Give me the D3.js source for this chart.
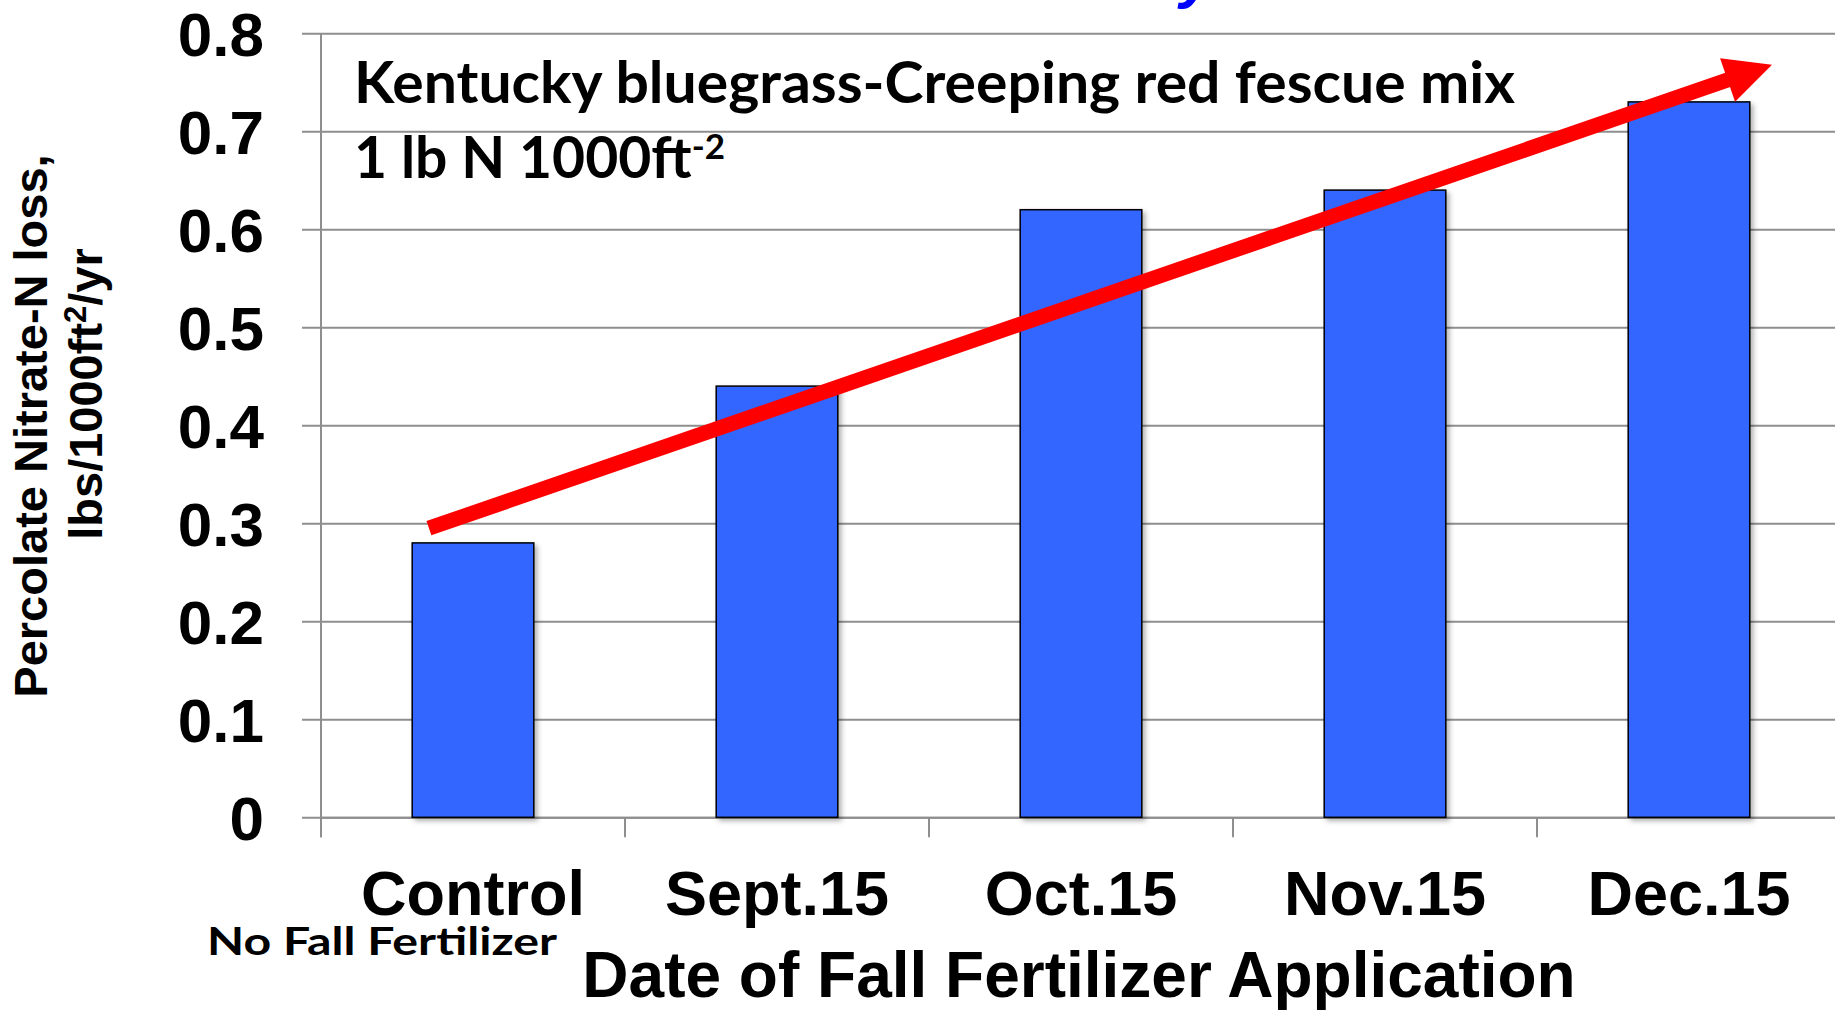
<!DOCTYPE html>
<html>
<head>
<meta charset="utf-8">
<script src="https://cdn.jsdelivr.net/npm/d3@7"></script>
<style>
  body { margin: 0; background: #fff; }
  svg { display: block; }
</style>
</head>
<body>
<div id="chart"></div>
<script>
const categories = ['Control', 'Sept.15', 'Oct.15', 'Nov.15', 'Dec.15']
const nitrateLoss = [0.28, 0.44, 0.62, 0.64, 0.73]
const yTickValues = [0, 0.1, 0.2, 0.3, 0.4, 0.5, 0.6, 0.7, 0.8]
const trendFrom = { category: 'Control', value: 0.295 }
const trendTo = { category: 'Dec.15', value: 0.768 }
const noteTitle = 'Kentucky bluegrass-Creeping red fescue mix'
const noteRate = '1 lb N 1000ft'
const noteRateExp = '-2'
const controlNote = 'No Fall Fertilizer'
const xTitle = 'Date of Fall Fertilizer Application'
const yTitle = ['Percolate Nitrate-N loss,', 'lbs/1000ft', '2', '/yr']

const width = 1835
const height = 1010
const plot = { left: 321, right: 1841, top: 33.3, bottom: 817.3 }
const arial = "'Liberation Sans', Arial, sans-serif"
const calibri = "Lato, 'Open Sans', sans-serif"
const gridColor = '#8e8e8e'

const svg = d3.select('#chart')
              .append('svg')
              .attr('width', width)
              .attr('height', height)

const defs = svg.append('defs')
defs.append('filter')
    .attr('id', 'shadow')
    .attr('x', '-10%').attr('y', '-10%')
    .attr('width', '130%').attr('height', '130%')
    .append('feDropShadow')
    .attr('dx', 3).attr('dy', 3)
    .attr('stdDeviation', 2.5)
    .attr('flood-color', '#000')
    .attr('flood-opacity', 0.3)

const x = d3.scaleBand()
            .domain(categories)
            .range([plot.left, plot.right])

const y = d3.scaleLinear()
            .domain([0, 0.8])
            .range([plot.bottom, plot.top])

// cut-off title fragment at the very top
svg.append('text')
   .attr('x', 1180)
   .attr('y', -4)
   .attr('font-family', arial)
   .attr('font-weight', 'bold')
   .attr('font-style', 'italic')
   .attr('font-size', 62)
   .attr('fill', '#0000ff')
   .text('y')

// y axis with gridlines
const yAxis = svg.append('g')
                 .attr('transform', `translate(${plot.left}, 0)`)
                 .call(d3.axisLeft(y).tickValues(yTickValues).tickFormat(d => d === 0 ? '0' : d3.format('.1f')(d)))

yAxis.select('.domain')
     .attr('stroke', gridColor)
     .attr('stroke-width', 2)
     .attr('d', `M0,${plot.top}V${plot.bottom + 20}`)

yAxis.selectAll('.tick line')
     .attr('stroke', gridColor)
     .attr('stroke-width', 2)
     .attr('x1', -19)
     .attr('x2', width - plot.left)

yAxis.selectAll('.tick text')
     .attr('x', -57)
     .attr('dy', '0.36em')
     .attr('fill', '#000')
     .attr('font-family', arial)
     .attr('font-weight', 'bold')
     .attr('font-size', 62)

// x axis
const xAxis = svg.append('g')
                 .attr('transform', `translate(0, ${plot.bottom})`)
                 .call(d3.axisBottom(x).tickSize(0))

xAxis.select('.domain')
     .attr('stroke', gridColor)
     .attr('stroke-width', 2)

xAxis.selectAll('.tick text')
     .attr('y', 98)
     .attr('dy', 0)
     .attr('fill', '#000')
     .attr('font-family', arial)
     .attr('font-weight', 'bold')
     .attr('font-size', 63)

xAxis.selectAll('line.boundary')
     .data(categories)
     .enter()
     .append('line')
     .attr('class', 'boundary')
     .attr('x1', d => x(d))
     .attr('x2', d => x(d))
     .attr('y1', 0)
     .attr('y2', 20)
     .attr('stroke', gridColor)
     .attr('stroke-width', 2)

// bars
const barWidth = x.bandwidth() * 0.4
svg.append('g')
   .selectAll('rect')
   .data(nitrateLoss)
   .enter()
   .append('rect')
   .attr('x', (_, i) => x(categories[i]) + (x.bandwidth() - barWidth) / 2)
   .attr('y', d => y(d))
   .attr('width', barWidth)
   .attr('height', d => y(0) - y(d))
   .attr('fill', '#3366ff')
   .attr('stroke', '#000')
   .attr('stroke-width', 1.5)
   .attr('filter', 'url(#shadow)')

// trend arrow
const p0 = [x(trendFrom.category) + x.bandwidth() * 0.355, y(trendFrom.value)]
const p1 = [x(trendTo.category) + x.bandwidth() * 0.773, y(trendTo.value)]
const len = Math.hypot(p1[0] - p0[0], p1[1] - p0[1])
const u = [(p1[0] - p0[0]) / len, (p1[1] - p0[1]) / len]
const n = [-u[1], u[0]]
const headLen = 47
const headHalf = 23
const base = [p1[0] - u[0] * headLen, p1[1] - u[1] * headLen]

svg.append('line')
   .attr('x1', p0[0]).attr('y1', p0[1])
   .attr('x2', base[0] + u[0]).attr('y2', base[1] + u[1])
   .attr('stroke', '#ff0000')
   .attr('stroke-width', 15)

svg.append('polygon')
   .attr('points', [
     [base[0] + n[0] * headHalf, base[1] + n[1] * headHalf],
     p1,
     [base[0] - n[0] * headHalf, base[1] - n[1] * headHalf]
   ].map(p => p.join(',')).join(' '))
   .attr('fill', '#ff0000')

// note text
svg.append('text')
   .attr('x', 354)
   .attr('y', 103)
   .attr('font-family', calibri)
   .attr('font-weight', 'bold')
   .attr('font-size', 58)
   .attr('textLength', 1161)
   .attr('lengthAdjust', 'spacingAndGlyphs')
   .text(noteTitle)

const rate = svg.append('text')
                .attr('x', 354)
                .attr('y', 178)
                .attr('font-family', calibri)
                .attr('font-weight', 'bold')
                .attr('font-size', 57)
rate.append('tspan').text(noteRate)
rate.append('tspan')
    .attr('dy', -19)
    .attr('font-size', 35)
    .text(noteRateExp)

svg.append('text')
   .attr('x', 207)
   .attr('y', 955)
   .attr('font-family', calibri)
   .attr('font-weight', 'bold')
   .attr('font-size', 39)
   .attr('textLength', 350)
   .attr('lengthAdjust', 'spacingAndGlyphs')
   .text(controlNote)

svg.append('text')
   .attr('x', 1079)
   .attr('y', 997)
   .attr('text-anchor', 'middle')
   .attr('font-family', arial)
   .attr('font-weight', 'bold')
   .attr('font-size', 64)
   .text(xTitle)

// y axis title
svg.append('text')
   .attr('transform', 'translate(47, 426) rotate(-90)')
   .attr('text-anchor', 'middle')
   .attr('font-family', arial)
   .attr('font-weight', 'bold')
   .attr('font-size', 47)
   .text(yTitle[0])

const yTitle2 = svg.append('text')
                   .attr('transform', 'translate(102, 394) rotate(-90)')
                   .attr('text-anchor', 'middle')
                   .attr('font-family', arial)
                   .attr('font-weight', 'bold')
                   .attr('font-size', 47)
yTitle2.append('tspan').text(yTitle[1])
yTitle2.append('tspan').attr('dy', -16).attr('font-size', 31).text(yTitle[2])
yTitle2.append('tspan').attr('dy', 16).text(yTitle[3])
</script>
</body>
</html>
